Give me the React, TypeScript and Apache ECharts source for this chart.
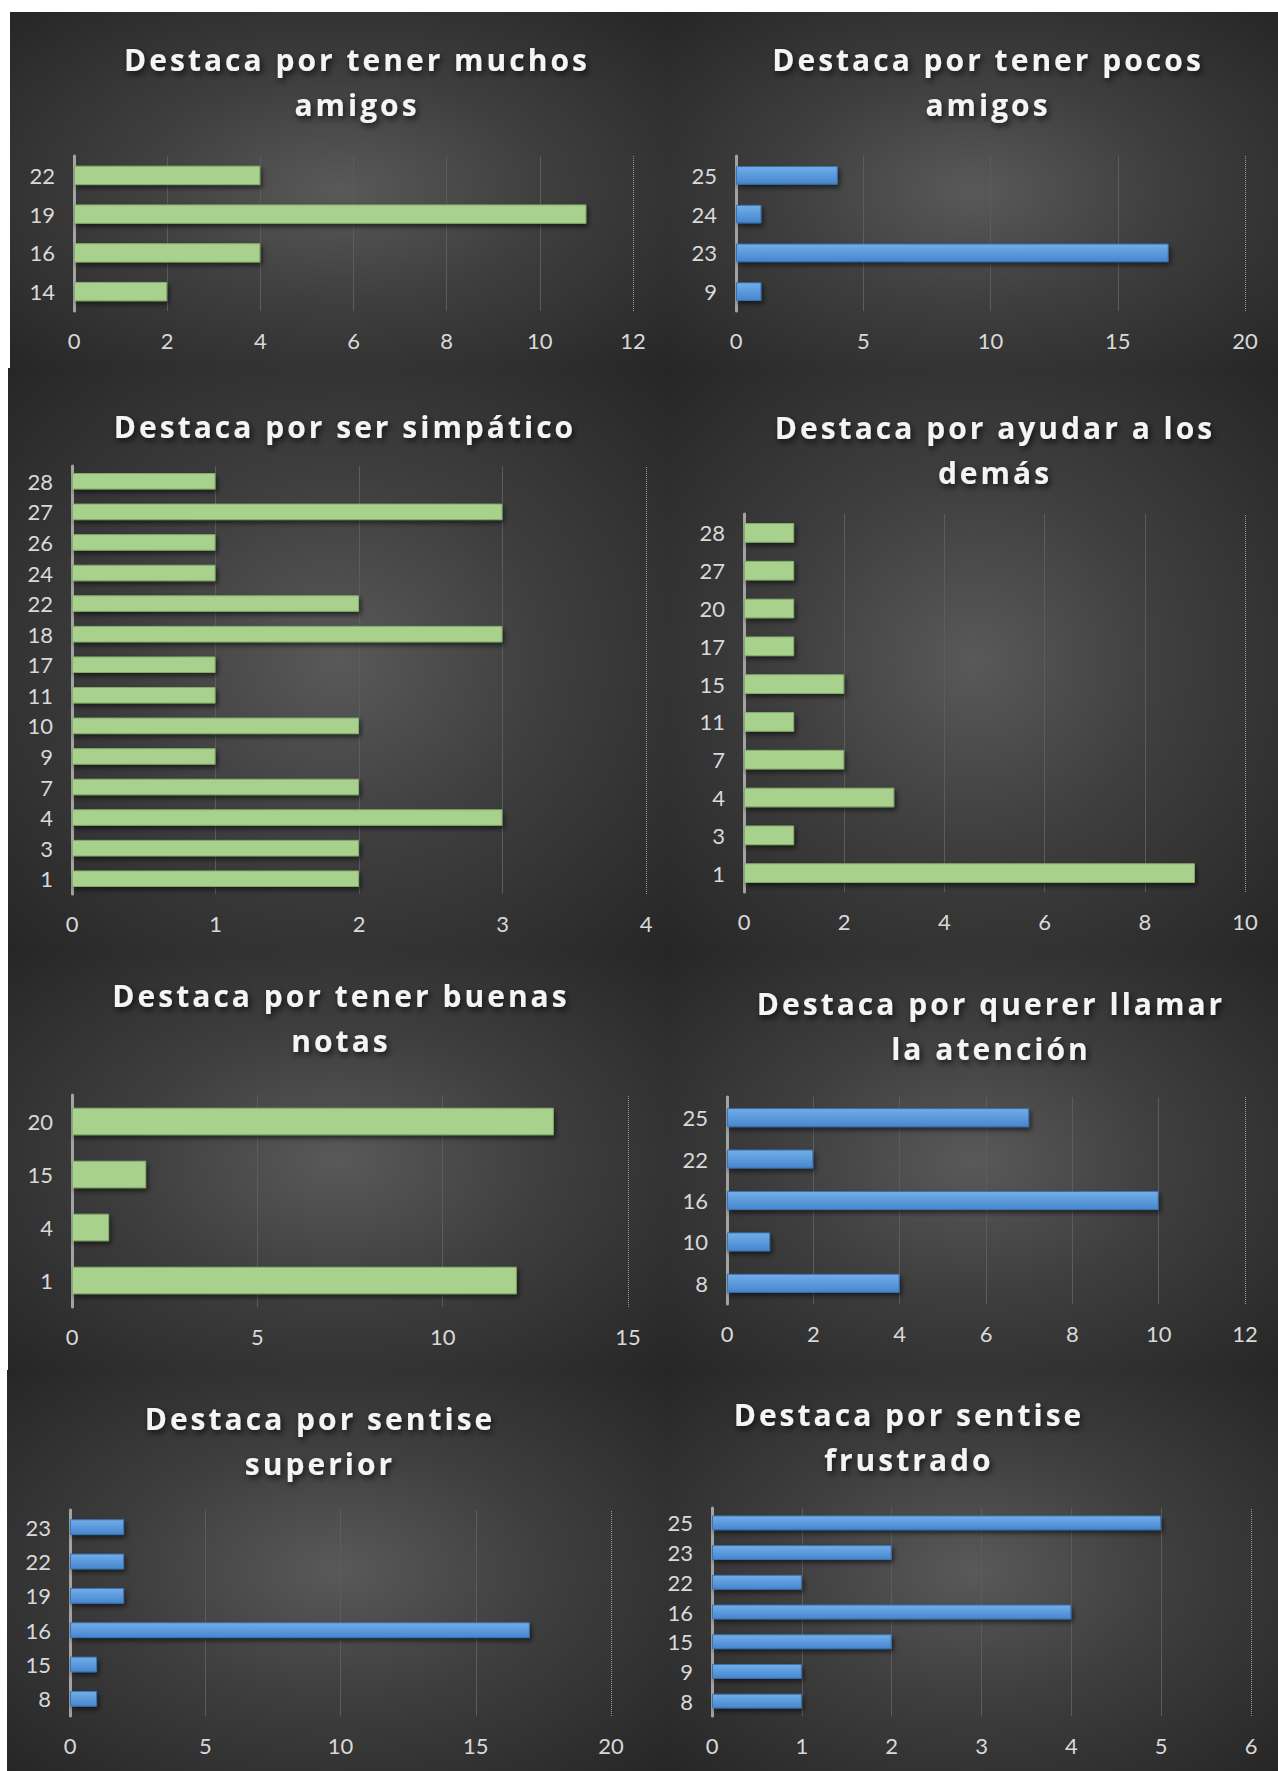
import React, { useEffect, useRef } from 'react';
import * as echarts from 'echarts';

// ---------- data ----------
const title1 = 'Destaca por tener muchos\namigos';
const cats1 = ['14', '16', '19', '22'];
const vals1 = [2, 4, 11, 4];

const title2 = 'Destaca por tener pocos\namigos';
const cats2 = ['9', '23', '24', '25'];
const vals2 = [1, 17, 1, 4];

const title3 = 'Destaca por ser simpático';
const cats3 = ['1', '3', '4', '7', '9', '10', '11', '17', '18', '22', '24', '26', '27', '28'];
const vals3 = [2, 2, 3, 2, 1, 2, 1, 1, 3, 2, 1, 1, 3, 1];

const title4 = 'Destaca por ayudar a los\ndemás';
const cats4 = ['1', '3', '4', '7', '11', '15', '17', '20', '27', '28'];
const vals4 = [9, 1, 3, 2, 1, 2, 1, 1, 1, 1];

const title5 = 'Destaca por tener buenas\nnotas';
const cats5 = ['1', '4', '15', '20'];
const vals5 = [12, 1, 2, 13];

const title6 = 'Destaca por querer llamar\nla atención';
const cats6 = ['8', '10', '16', '22', '25'];
const vals6 = [4, 1, 10, 2, 7];

const title7 = 'Destaca por sentise\nsuperior';
const cats7 = ['8', '15', '16', '19', '22', '23'];
const vals7 = [1, 1, 17, 2, 2, 2];

const title8 = 'Destaca por sentise\nfrustrado';
const cats8 = ['8', '9', '15', '16', '22', '23', '25'];
const vals8 = [1, 1, 2, 4, 1, 2, 5];

// axis maxima / intervals (tick labels)
const axisMax = [12, 20, 4, 10, 15, 12, 20, 6];
const axisStep = [2, 5, 1, 2, 5, 2, 5, 1];

// ---------- layout ----------
type Panel = {
  title: string; cats: string[]; vals: number[]; blue: boolean;
  grid: { left: number; top: number; width: number; height: number };
  tx: number; ty: number;
  bg: { x: number; y: number; w: number; h: number };
  gap: string;
};

const panels: Panel[] = [
  { title: title1, cats: cats1, vals: vals1, blue: false, grid: { left: 74, top: 156, width: 559, height: 155 }, tx: 357, ty: 59, bg: { x: 10, y: 12, w: 658, h: 356 }, gap: '50%' },
  { title: title2, cats: cats2, vals: vals2, blue: true, grid: { left: 736, top: 156, width: 509, height: 155 }, tx: 988, ty: 59, bg: { x: 668, y: 12, w: 610, h: 358 }, gap: '52%' },
  { title: title3, cats: cats3, vals: vals3, blue: false, grid: { left: 72, top: 466, width: 574, height: 428 }, tx: 345, ty: 426, bg: { x: 8, y: 368, w: 660, h: 584 }, gap: '46%' },
  { title: title4, cats: cats4, vals: vals4, blue: false, grid: { left: 744, top: 514, width: 501, height: 378 }, tx: 995, ty: 427, bg: { x: 668, y: 370, w: 610, h: 582 }, gap: '48%' },
  { title: title5, cats: cats5, vals: vals5, blue: false, grid: { left: 72, top: 1095, width: 556, height: 212 }, tx: 341, ty: 995, bg: { x: 8, y: 952, w: 660, h: 418 }, gap: '48%' },
  { title: title6, cats: cats6, vals: vals6, blue: true, grid: { left: 727, top: 1097, width: 518, height: 207 }, tx: 991, ty: 1003, bg: { x: 668, y: 952, w: 610, h: 418 }, gap: '54%' },
  { title: title7, cats: cats7, vals: vals7, blue: true, grid: { left: 70, top: 1510, width: 541, height: 206 }, tx: 320, ty: 1418, bg: { x: 7, y: 1370, w: 661, h: 401 }, gap: '54%' },
  { title: title8, cats: cats8, vals: vals8, blue: true, grid: { left: 712, top: 1508, width: 539, height: 208 }, tx: 909, ty: 1414, bg: { x: 668, y: 1370, w: 610, h: 401 }, gap: '50%' },
];

const TITLE_FONT = 30;
const TITLE_FAMILY = 'Open Sans';
const TITLE_TARGET = 466; // width of "Destaca por tener muchos"

export default function App() {
  const ref = useRef<HTMLDivElement>(null);

  useEffect(() => {
    if (!ref.current) return;
    const chart = echarts.init(ref.current, null, { renderer: 'svg' });

    const labelStyle = { color: '#d9d9d9', fontSize: 22, fontFamily: 'Lato' };

    const option: any = {
      animation: false,
      backgroundColor: 'transparent',
      title: panels.map((p) => ({
        text: p.title,
        left: p.tx,
        top: p.ty - 22.5,
        textAlign: 'center',
        padding: 0,
        textStyle: {
          color: '#f4f4f4',
          fontFamily: TITLE_FAMILY,
          fontWeight: 'bold',
          fontSize: TITLE_FONT,
          lineHeight: 45,
          textShadowColor: 'rgba(0,0,0,0.7)',
          textShadowBlur: 6,
          textShadowOffsetX: 2,
          textShadowOffsetY: 3,
        },
      })),
      grid: panels.map((p) => ({ ...p.grid, containLabel: false })),
      xAxis: panels.map((p, i) => {
        const n = Math.round(axisMax[i] / axisStep[i]) + 1;
        const cols = Array.from({ length: n }, (_, k) => (k === n - 1 ? 'rgba(0,0,0,0)' : '#5c5c5c'));
        return {
          type: 'value',
          gridIndex: i,
          min: 0,
          max: axisMax[i],
          interval: axisStep[i],
          axisLine: { show: false },
          axisTick: { show: false },
          axisLabel: { ...labelStyle, margin: 18 },
          splitLine: { show: true, lineStyle: { color: cols, width: 1 } },
        };
      }),
      yAxis: panels.map((p, i) => ({
        type: 'category',
        gridIndex: i,
        data: p.cats,
        axisLine: { show: true, lineStyle: { color: '#a3a3a3', width: 3 } },
        axisTick: { show: false },
        axisLabel: { ...labelStyle, margin: 19 },
        splitLine: { show: false },
      })),
      series: panels.map((p, i) => ({
        type: 'bar',
        xAxisIndex: i,
        yAxisIndex: i,
        data: p.vals,
        barCategoryGap: p.gap,
        itemStyle: p.blue
          ? {
              color: {
                type: 'linear', x: 0, y: 0, x2: 0, y2: 1,
                colorStops: [
                  { offset: 0, color: '#72AEE8' },
                  { offset: 1, color: '#4686CF' },
                ],
              },
              borderColor: '#3A73B0',
              borderWidth: 1,
              shadowColor: 'rgba(0,0,0,0.55)',
              shadowBlur: 5,
              shadowOffsetX: 2,
              shadowOffsetY: 3,
            }
          : {
              color: '#A9D18E',
              borderColor: '#86AD6C',
              borderWidth: 1,
              shadowColor: 'rgba(0,0,0,0.55)',
              shadowBlur: 5,
              shadowOffsetX: 2,
              shadowOffsetY: 3,
            },
        markLine: {
          silent: true,
          symbol: 'none',
          label: { show: false },
          lineStyle: { type: 'dotted', color: '#9a9a9a', width: 1 },
          data: [{ xAxis: axisMax[i] }],
        },
      })),
    };

    chart.setOption(option);

    // letter spacing for titles (matching the wide spacing of the original)
    try {
      const cv = document.createElement('canvas');
      const ctx = cv.getContext('2d');
      let ls = 2;
      if (ctx) {
        ctx.font = `bold ${TITLE_FONT}px "${TITLE_FAMILY}"`;
        const w = ctx.measureText('Destaca por tener muchos').width;
        ls = Math.max(0, (TITLE_TARGET - w) / 24);
      }
      const lines = new Set<string>();
      panels.forEach((p) => p.title.split('\n').forEach((l) => lines.add(l)));
      ref.current.querySelectorAll('text').forEach((t) => {
        const s = (t.textContent || '').trim();
        if (lines.has(s) || s.startsWith('Destaca')) {
          t.setAttribute('letter-spacing', String(ls.toFixed(2)));
        }
      });
    } catch (e) {
      // ignore
    }

    return () => chart.dispose();
  }, []);

  return (
    <div style={{ position: 'absolute', left: 0, top: 0, width: 1278, height: 1771, background: '#ffffff', overflow: 'hidden' }}>
      {panels.map((p, i) => (
        <div
          key={i}
          style={{
            position: 'absolute',
            left: p.bg.x,
            top: p.bg.y,
            width: p.bg.w,
            height: p.bg.h,
            background: 'radial-gradient(ellipse farthest-corner at 50% 50%, #595959 0%, #3e3e3e 45%, #262626 100%)',
          }}
        />
      ))}
      <div ref={ref} style={{ position: 'absolute', left: 0, top: 0, width: 1278, height: 1771 }} />
    </div>
  );
}
